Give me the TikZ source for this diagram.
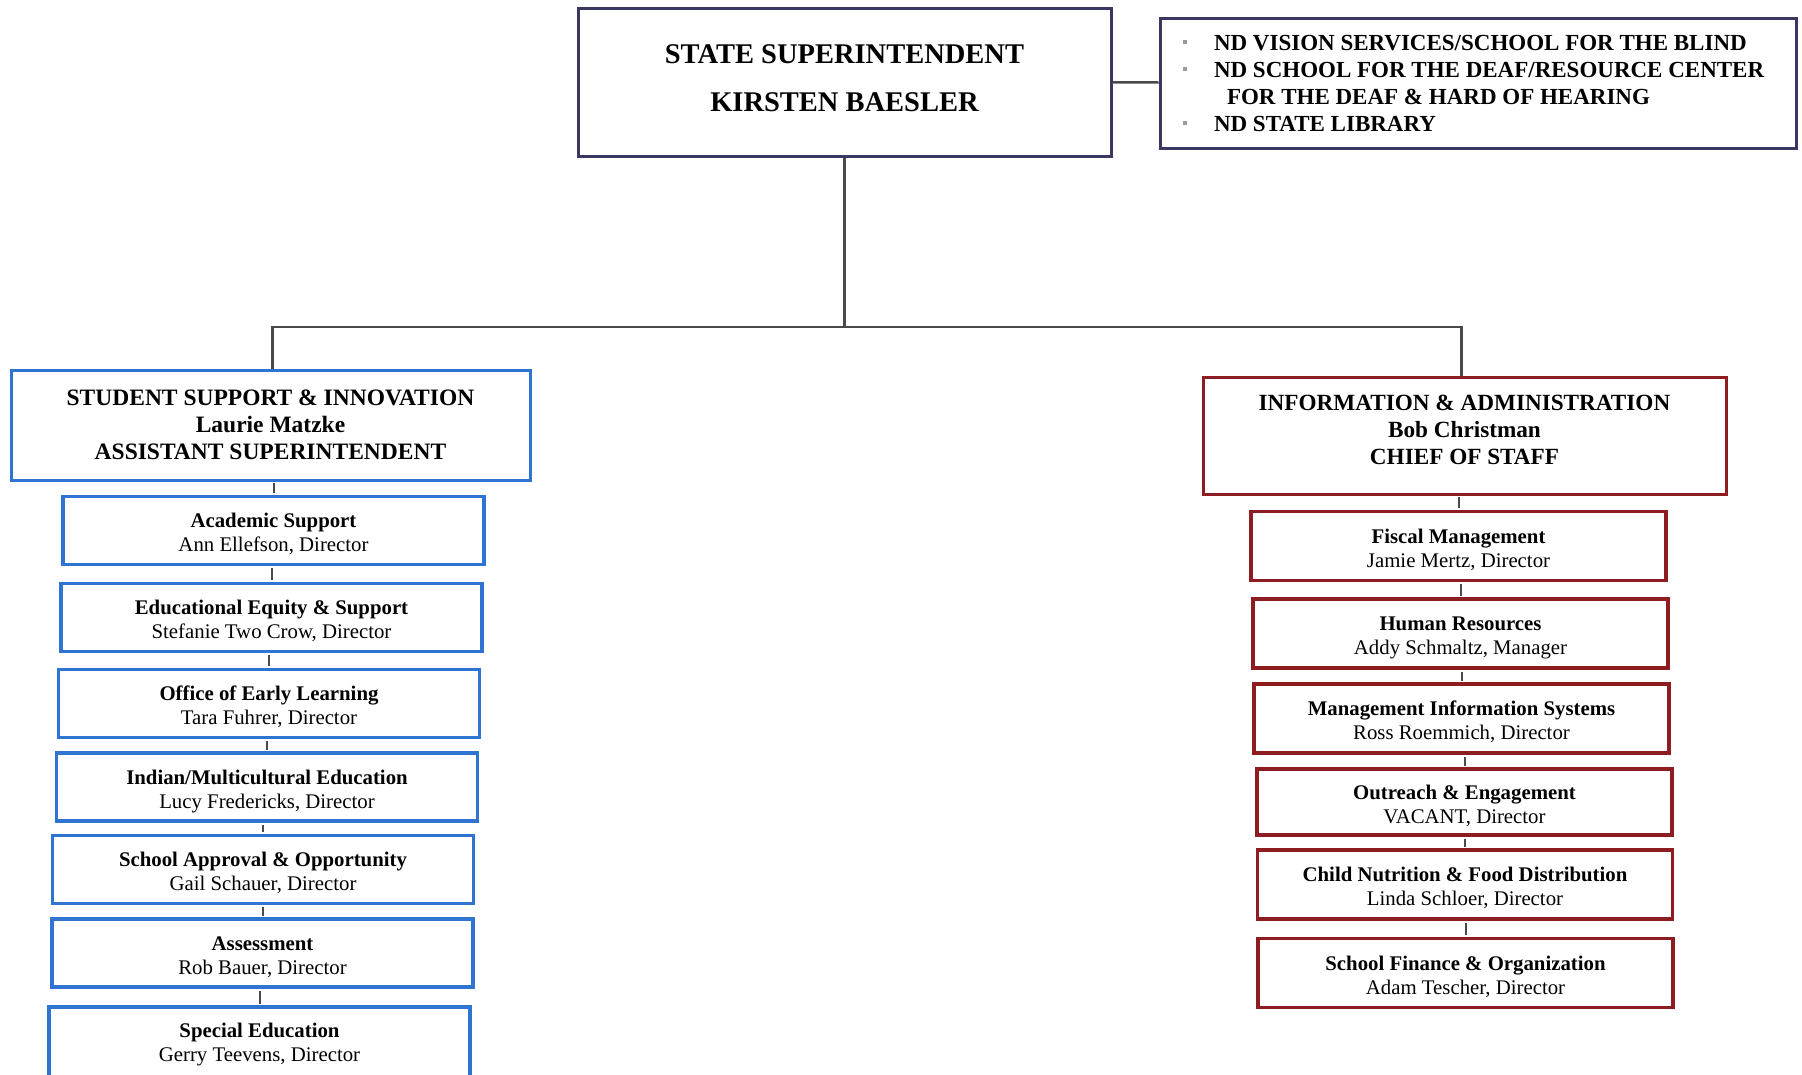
\documentclass[tikz,border=0pt]{standalone}
\usepackage{fontspec}
\setmainfont{Liberation Serif}
\definecolor{navy}{HTML}{3A3762}
\definecolor{bblue}{HTML}{2F74D2}
\definecolor{dred}{HTML}{8E1D22}
\definecolor{conn}{HTML}{4A4A4A}
\definecolor{bulgray}{HTML}{9A9A9A}
\tikzset{
  topbox/.style={draw=navy,line width=3pt,fill=white,align=center,font=\fontsize{28.5}{48}\selectfont\bfseries,inner sep=0pt},
  bulbox/.style={draw=navy,line width=3pt,fill=white,align=left,inner sep=0pt},
  mainblue/.style={draw=bblue,line width=3pt,fill=white,align=center,font=\fontsize{23.5}{27}\selectfont\bfseries,inner sep=0pt},
  mainred/.style={draw=dred,line width=3pt,fill=white,align=center,font=\fontsize{23.2}{27}\selectfont\bfseries,inner sep=0pt},
  subblue/.style={draw=bblue,line width=3.5pt,fill=white,align=center,font=\fontsize{20.8}{24}\selectfont,inner sep=0pt,minimum width=421pt,minimum height=68pt},
  subred/.style={draw=dred,line width=3.5pt,fill=white,align=center,font=\fontsize{20.8}{24}\selectfont,inner sep=0pt,minimum width=415pt,minimum height=69pt},
  conline/.style={draw=conn,line width=2.5pt}
}
\newcommand{\bul}{\hspace*{7pt}\makebox[31pt][l]{\textcolor{bulgray}{\rule[0.25em]{4pt}{4pt}}}}
\newcommand{\shiftdown}[2]{\raisebox{#1}[\height][\depth]{#2}}
\newcommand{\twol}[2]{\shiftdown{-4.5pt}{\begin{tabular}{@{}c@{}}\textbf{#1}\\#2\end{tabular}}}
\begin{document}
\begin{tikzpicture}[x=1pt,y=-1pt]
\useasboundingbox[fill=white] (0,0) rectangle (1802,1074);

% top
\node[topbox,minimum width=533pt,minimum height=148pt] (sup) at (844.5,82) {\shiftdown{4.5pt}{\begin{tabular}{@{}c@{}}STATE SUPERINTENDENT\\KIRSTEN BAESLER\end{tabular}}};
\node[bulbox,minimum width=636pt,minimum height=130pt] (bul) at (1478,83) {%
\parbox{604pt}{\fontsize{23}{27}\selectfont\bfseries
\bul ND VISION SERVICES/SCHOOL FOR THE BLIND\\
\bul ND SCHOOL FOR THE DEAF/RESOURCE CENTER\\
\hspace*{51pt}FOR THE DEAF \& HARD OF HEARING\\
\bul ND STATE LIBRARY}};

% main boxes
\node[mainblue,minimum width=519pt,minimum height=110pt] (ssi) at (270.5,425) {STUDENT SUPPORT \& INNOVATION\\Laurie Matzke\\ASSISTANT SUPERINTENDENT};
\node[mainred,minimum width=523pt,minimum height=117pt] (ia) at (1464.5,435.5) {\shiftdown{3.5pt}{\begin{tabular}{@{}c@{}}INFORMATION \& ADMINISTRATION\\Bob Christman\\CHIEF OF STAFF\end{tabular}}};

% connectors top
\draw[conline] (sup) -- (bul);
\draw[conline] (sup.south) -- (sup.south |- 0,327) coordinate (j);
\draw[conline] ([xshift=2pt]ssi.north) |- (j) -| ([xshift=-3pt]ia.north);

% left sub boxes
\node[subblue] (l1) at (273.5,530.5) {\twol{Academic Support}{Ann Ellefson, Director}};
\node[subblue] (l2) at (271.5,617.5) {\twol{Educational Equity \& Support}{Stefanie Two Crow, Director}};
\node[subblue] (l3) at (269,703.5) {\twol{Office of Early Learning}{Tara Fuhrer, Director}};
\node[subblue] (l4) at (267,787) {\twol{Indian/Multicultural Education}{Lucy Fredericks, Director}};
\node[subblue] (l5) at (263,869.5) {\twol{School Approval \& Opportunity}{Gail Schauer, Director}};
\node[subblue] (l6) at (262.5,953) {\twol{Assessment}{Rob Bauer, Director}};
\node[subblue,minimum height=76pt] (l7) at (259.5,1045) {\begin{tabular}{@{}c@{}}\textbf{Special Education}\\Gerry Teevens, Director\end{tabular}};

% right sub boxes
\node[subred] (r1) at (1458.5,546) {\twol{Fiscal Management}{Jamie Mertz, Director}};
\node[subred] (r2) at (1460.5,633.5) {\twol{Human Resources}{Addy Schmaltz, Manager}};
\node[subred] (r3) at (1461.5,718.5) {\twol{Management Information Systems}{Ross Roemmich, Director}};
\node[subred,minimum height=66pt] (r4) at (1464.5,802) {\twol{Outreach \& Engagement}{VACANT, Director}};
\node[subred] (r5) at (1465,884.5) {\twol{Child Nutrition \& Food Distribution}{Linda Schloer, Director}};
\node[subred] (r6) at (1465.5,973) {\twol{School Finance \& Organization}{Adam Tescher, Director}};

% chain connectors
\foreach \a/\b in {ssi/l1,l1/l2,l2/l3,l3/l4,l4/l5,l5/l6,l6/l7,ia/r1,r1/r2,r2/r3,r3/r4,r4/r5,r5/r6}{
  \draw[conline,line width=2pt,shorten <=1.75pt,shorten >=1.75pt] (\b.north) -- (\b.north |- \a.south);
}
\end{tikzpicture}
\end{document}
